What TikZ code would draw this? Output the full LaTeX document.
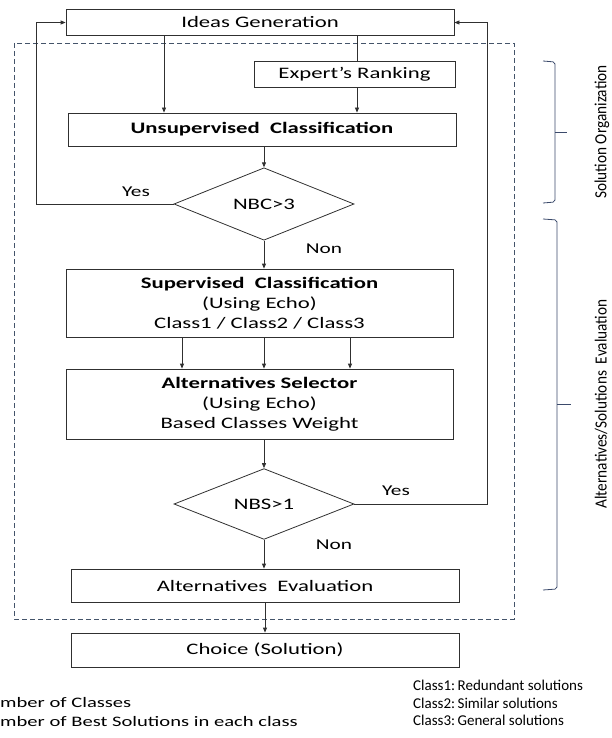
\documentclass[tikz,border=0pt]{standalone}
\usepackage{fontspec}
\setmainfont{Carlito}
\newfontfamily\wfont[FakeStretch=1.42]{Carlito}
\newfontfamily\cfont[FakeStretch=0.9]{Carlito}
\usetikzlibrary{arrows.meta,shapes.geometric}
\definecolor{dashcol}{HTML}{44546A}
\definecolor{brk}{HTML}{3B4A6B}
\definecolor{ln}{HTML}{303030}
\begin{document}
\begin{tikzpicture}[x=1pt,y=-1pt,
  box/.style={draw=ln,line width=0.8pt,inner sep=0pt,align=center,
    font=\wfont\fontsize{16}{20}\selectfont},
  dec/.style={draw=ln,line width=0.8pt,diamond,inner sep=0pt,
    font=\wfont\fontsize{16}{20}\selectfont},
  arr/.style={draw=ln,line width=0.8pt,-{Triangle[length=5pt,width=4pt]}},
  plain/.style={draw=ln,line width=0.8pt},
  lbl/.style={font=\wfont\fontsize{15}{18}\selectfont,inner sep=0pt},
  brace/.style={draw=brk,line width=0.8pt,rounded corners=2pt},
  vtxt/.style={rotate=90,font=\cfont\fontsize{17}{18}\selectfont,inner sep=0pt}]
\useasboundingbox (0,0) rectangle (611,738);
% main boxes
\node[box,minimum width=388pt,minimum height=26pt] (ideas) at (260,22.5) {Ideas Generation};
\node[box,minimum width=201pt,minimum height=26pt] (expert) at (354.5,74) {Expert’s Ranking};
\node[box,minimum width=388pt,minimum height=33pt] (unsup) at (262,129.5) {\bfseries Unsupervised\ \ Classification};
\node[dec,minimum width=180pt,minimum height=64pt] (d1) at (264,204) {NBC>3};
\node[box,minimum width=387pt,minimum height=68pt] (sup) at (259.5,303) {\bfseries Supervised\ \ Classification\\(Using Echo)\\Class1 / Class2 / Class3};
\node[box,minimum width=387pt,minimum height=70pt] (altsel) at (259.5,404) {\bfseries Alternatives Selector\\(Using Echo)\\Based Classes Weight};
\node[dec,minimum width=180pt,minimum height=66pt] (d2) at (264,504) {NBS>1};
\node[box,minimum width=388pt,minimum height=33pt] (alteval) at (265,585.5) {Alternatives\ \ Evaluation};
\node[box,minimum width=388pt,minimum height=34pt] (choice) at (265,650) {Choice (Solution)};
% dashed frame
\draw[draw=dashcol,line width=0.8pt,dash pattern=on 5pt off 3pt] (14,43) rectangle (514,619);
% helper coordinates
\coordinate (xl) at (164,0);
\coordinate (xr) at (357,0);
\coordinate (lx) at (36,0);
\coordinate (rx) at (487,0);
\coordinate (c1) at (182,0);
\coordinate (c3) at (350,0);
% connectors
\draw[arr] (ideas.south -| xl) -- (unsup.north -| xl);
\draw[plain] (ideas.south -| xr) -- (expert.north -| xr);
\draw[arr] (expert.south -| xr) -- (unsup.north -| xr);
\draw[arr] (unsup.south -| d1.north) -- (d1.north);
\draw[arr] (d1.south) -- (d1.south |- sup.north);
\draw[arr] (sup.south -| c1) -- (altsel.north -| c1);
\draw[arr] (sup.south -| d2.north) -- (altsel.north -| d2.north);
\draw[arr] (sup.south -| c3) -- (altsel.north -| c3);
\draw[arr] (altsel.south -| d2.north) -- (d2.north);
\draw[arr] (d2.south) -- (d2.south |- alteval.north);
\draw[arr] (alteval.south -| choice.north) -- (choice.north);
\draw[arr] (d1.west) -- (d1.west -| lx) -- (lx |- ideas.west) -- (ideas.west);
\draw[arr] (d2.east) -- (d2.east -| rx) -- (rx |- ideas.east) -- (ideas.east);
% labels
\node[lbl] (yes1) at (136,192) {Yes};
\node[lbl] (non1) at (324,249) {Non};
\node[lbl] (yes2) at (396,491) {Yes};
\node[lbl] (non2) at (334,545) {Non};
% braces
\draw[brace] (543,61) -- (555,62) -- (555,202) -- (543,203);
\draw[draw=brk,line width=0.8pt] (555,132) -- (567,132);
\draw[brace] (543,219) -- (557,220) -- (557,589) -- (543,590);
\draw[draw=brk,line width=0.8pt] (557,404) -- (571,404);
\node[vtxt] (so) at (602,132) {Solution Organization};
\node[vtxt] (ase) at (601,404) {Alternatives/Solutions\ \ Evaluation};
% legends
\node[lbl,anchor=west,align=left,font=\wfont\fontsize{14.5}{19}\selectfont] (legl) at (0,712) {mber of Classes\\mber of Best Solutions in each class};
\node[anchor=west,align=left,inner sep=0pt,font=\fontsize{15}{17.5}\selectfont] (legr) at (413,703) {Class1:\,Redundant solutions\\Class2:\,Similar solutions\\Class3:\,General solutions};
\end{tikzpicture}
\end{document}
